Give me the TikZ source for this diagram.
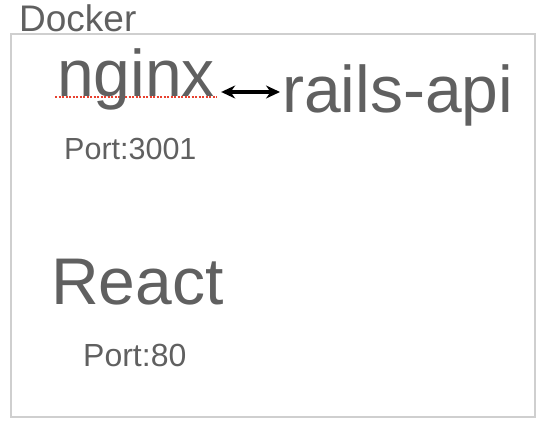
\documentclass[tikz,border=0pt]{standalone}
\usepackage{fontspec}
\setmainfont{Liberation Sans}
\usetikzlibrary{arrows.meta}

\definecolor{txtgray}{HTML}{606060}
\definecolor{boxgray}{HTML}{CFCFCF}
\definecolor{spellred}{HTML}{E8412F}

\begin{document}
\begin{tikzpicture}[x=1pt, y=-1pt,
        txt/.style={anchor=base west, inner sep=0pt, text=txtgray},
        big/.style={txt, font=\fontsize{66}{66}\selectfont},
        small/.style={txt, font=\fontsize{30.5}{30.5}\selectfont}]
        \useasboundingbox (0,0) rectangle (542,422);
        \coordinate (TL) at (11,34);
        \coordinate (BR) at (535,417);

        \draw[boxgray, line width=2pt] (TL) rectangle (BR);

        \node[txt, font=\fontsize{37}{37}\selectfont] (docker) at (19,31.5) {Docker};
        \draw[spellred, line width=2pt, dash pattern=on 2pt off 1.5pt] (55,97.5) -- (217,97.5);
        \node[big] (nginx) at (57,97) {nginx};
        \node[big] (rails) at (282,113) {rails-api};
        \node[small] (port3001) at (64,160) {Port:3001};
        \node[big] (react) at (51,305) {React};
        \node[small, font=\fontsize{32}{32}\selectfont] (port80) at (83,367) {Port:80};

        \draw[black, line width=4pt, {Stealth[length=14pt,width=13pt]}-{Stealth[length=14pt,width=13pt]}] ([shift={(6,-5)}]nginx.base east) -- ([shift={(-2,-5)}]rails.west |- nginx.base);
    \end{tikzpicture}
\end{document}
